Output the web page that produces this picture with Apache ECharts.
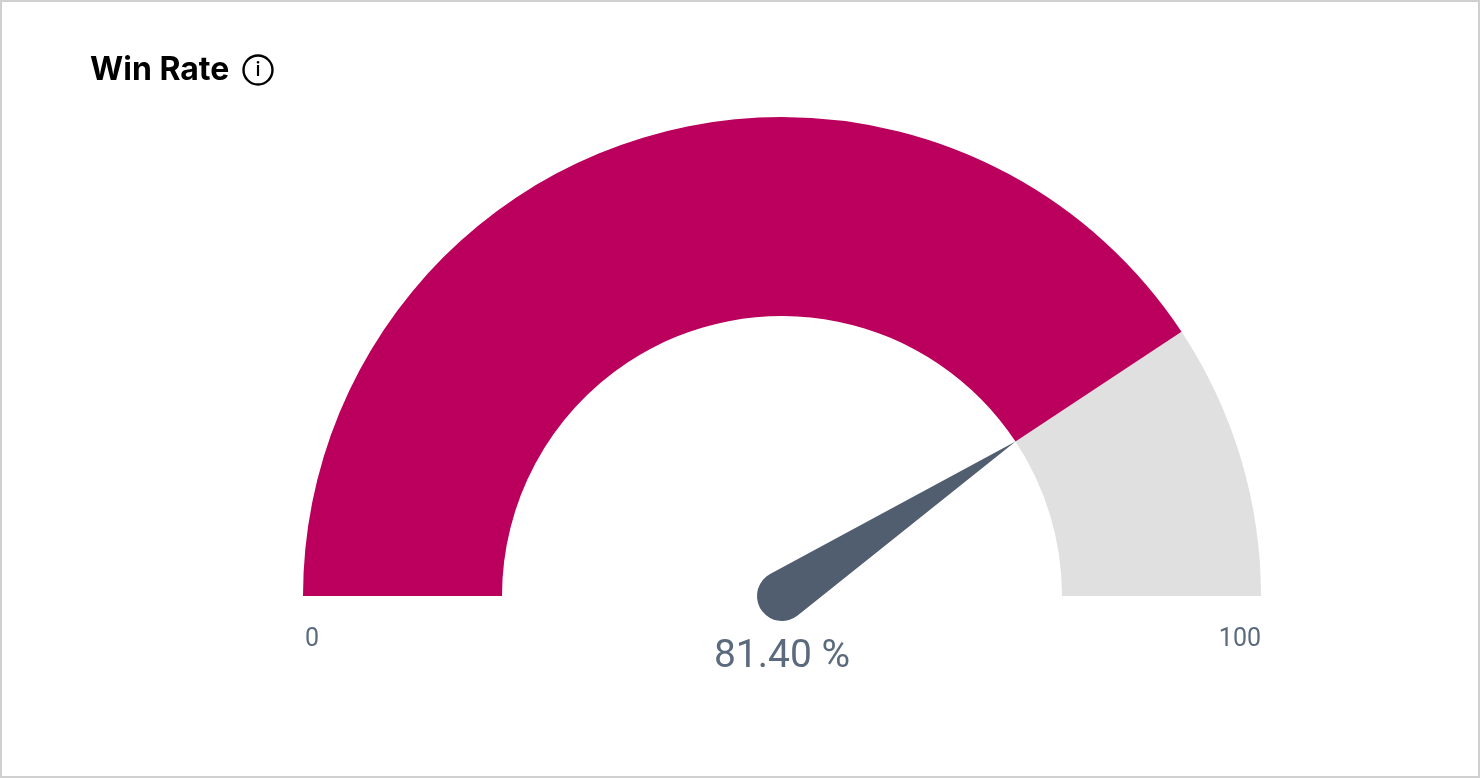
<!DOCTYPE html>
<html>
<head>
<meta charset="utf-8">
<title>Win Rate</title>
<script src="https://cdn.jsdelivr.net/npm/echarts@6/dist/echarts.min.js"></script>
<style>
  html, body { margin: 0; padding: 0; background: #fff; }
  #chart { position: absolute; left: 0; top: 0; width: 1480px; height: 778px; }
  #frame { position: absolute; left: 0; top: 0; width: 1476px; height: 774px; border: 2px solid #d0d0d0; pointer-events: none; }
</style>
</head>
<body>
<div id="chart"></div>
<div id="frame"></div>
<script>
  const titleText = 'Win Rate';
  const axisMin = 0;
  const axisMax = 100;
  const winRate = 81.4;
  const colors = ['#ba005c', '#e0e0e0'];

  const myChart = echarts.init(document.getElementById('chart'));
  const option = {
    animation: false,
    title: {
      text: titleText,
      left: 90,
      top: 51,
      padding: 0,
      textStyle: { fontFamily: 'Inter', fontSize: 32, fontWeight: 700, color: '#000', lineHeight: 38 }
    },
    // info icon next to the title
    graphic: [
      {
        type: 'circle',
        shape: { cx: 258, cy: 70, r: 14.5 },
        style: { fill: 'none', stroke: '#000', lineWidth: 2.4 }
      },
      {
        type: 'text',
        x: 258,
        y: 70,
        style: { text: 'i', align: 'center', verticalAlign: 'middle', fontFamily: 'Inter', fontSize: 20, fontWeight: 500, fill: '#000' }
      }
    ],
    series: [
      {
        type: 'gauge',
        center: [782, 596],
        radius: 479,
        startAngle: 180,
        endAngle: 0,
        min: axisMin,
        max: axisMax,
        splitNumber: 1,
        axisLine: {
          lineStyle: {
            width: 199,
            color: [[winRate / axisMax, colors[0]], [1, colors[1]]]
          }
        },
        axisTick: { show: false },
        splitLine: { show: false, length: 0, distance: 0 },
        axisLabel: {
          distance: 0,
          // the labels sit below the arc ends, pushed down with rich padding
          formatter: function (v) { return '{t|' + v + '}'; },
          rich: {
            t: {
              fontFamily: 'Roboto',
              fontSize: 25,
              color: '#5c6a7e',
              padding: [88, 0, 0, 2]
            }
          }
        },
        pointer: {
          icon: 'path://M25 0 L49.9 277.77 A25 25 0 1 1 0.1 277.77 Z',
          length: 305,
          width: 50,
          offsetCenter: [0, 25],
          itemStyle: { color: '#515e70' }
        },
        anchor: { show: false },
        title: { show: false },
        detail: {
          valueAnimation: false,
          offsetCenter: [0, 61],
          formatter: function (v) { return v.toFixed(2) + ' %'; },
          fontFamily: 'Roboto',
          fontSize: 39,
          fontWeight: 400,
          color: '#5c6a7e'
        },
        data: [{ value: winRate }]
      }
    ]
  };
  myChart.setOption(option);
</script>
</body>
</html>
